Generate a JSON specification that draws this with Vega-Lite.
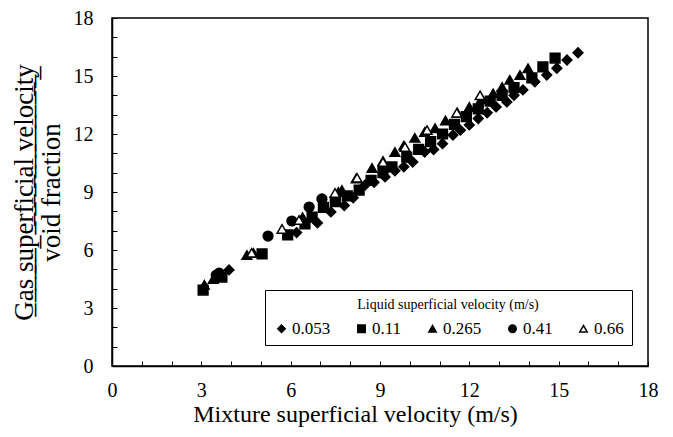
{
  "$schema": "https://vega.github.io/schema/vega-lite/v6.json",
  "width": 536,
  "height": 348,
  "autosize": {"type": "none"},
  "padding": {"left": 112, "top": 18, "right": 25, "bottom": 71},
  "background": "white",
  "config": {
    "font": "Liberation Serif",
    "view": {"stroke": "#000000", "strokeWidth": 1.5},
    "axis": {
      "grid": false,
      "domainColor": "#000000",
      "domainWidth": 1.5,
      "tickColor": "#000000",
      "tickWidth": 1,
      "tickSize": -5,
      "labelColor": "#000000",
      "titleColor": "#000000",
      "labelFont": "Liberation Serif",
      "titleFont": "Liberation Serif",
      "titleFontWeight": "normal",
      "labelFontSize": 20
    },
    "legend": {
      "symbolStrokeWidth": 1.5
    }
  },
  "data": {
    "values": [
      {"vm": 3.93, "vg": 4.97, "s": "0.053"},
      {"vm": 6.2, "vg": 6.9, "s": "0.053"},
      {"vm": 6.9, "vg": 7.4, "s": "0.053"},
      {"vm": 7.35, "vg": 7.97, "s": "0.053"},
      {"vm": 7.8, "vg": 8.3, "s": "0.053"},
      {"vm": 8.1, "vg": 8.7, "s": "0.053"},
      {"vm": 8.5, "vg": 9.36, "s": "0.053"},
      {"vm": 8.8, "vg": 9.5, "s": "0.053"},
      {"vm": 9.17, "vg": 9.78, "s": "0.053"},
      {"vm": 9.5, "vg": 10.1, "s": "0.053"},
      {"vm": 9.8, "vg": 10.3, "s": "0.053"},
      {"vm": 10.1, "vg": 10.55, "s": "0.053"},
      {"vm": 10.5, "vg": 11.07, "s": "0.053"},
      {"vm": 10.8, "vg": 11.2, "s": "0.053"},
      {"vm": 11.1, "vg": 11.5, "s": "0.053"},
      {"vm": 11.45, "vg": 11.95, "s": "0.053"},
      {"vm": 11.7, "vg": 12.2, "s": "0.053"},
      {"vm": 12.0, "vg": 12.47, "s": "0.053"},
      {"vm": 12.3, "vg": 12.8, "s": "0.053"},
      {"vm": 12.6, "vg": 13.1, "s": "0.053"},
      {"vm": 12.9, "vg": 13.4, "s": "0.053"},
      {"vm": 13.26, "vg": 13.66, "s": "0.053"},
      {"vm": 13.5, "vg": 14.0, "s": "0.053"},
      {"vm": 13.8, "vg": 14.28, "s": "0.053"},
      {"vm": 14.2, "vg": 14.7, "s": "0.053"},
      {"vm": 14.6, "vg": 15.05, "s": "0.053"},
      {"vm": 14.94, "vg": 15.4, "s": "0.053"},
      {"vm": 15.28, "vg": 15.83, "s": "0.053"},
      {"vm": 15.65, "vg": 16.2, "s": "0.053"},
      {"vm": 3.06, "vg": 3.93, "s": "0.11"},
      {"vm": 3.69, "vg": 4.6, "s": "0.11"},
      {"vm": 5.04, "vg": 5.8, "s": "0.11"},
      {"vm": 5.9, "vg": 6.78, "s": "0.11"},
      {"vm": 6.48, "vg": 7.35, "s": "0.11"},
      {"vm": 6.72, "vg": 7.7, "s": "0.11"},
      {"vm": 7.1, "vg": 8.2, "s": "0.11"},
      {"vm": 7.5, "vg": 8.5, "s": "0.11"},
      {"vm": 7.9, "vg": 8.8, "s": "0.11"},
      {"vm": 8.3, "vg": 9.1, "s": "0.11"},
      {"vm": 8.7, "vg": 9.6, "s": "0.11"},
      {"vm": 9.1, "vg": 10.0, "s": "0.11"},
      {"vm": 9.4, "vg": 10.3, "s": "0.11"},
      {"vm": 9.9, "vg": 10.8, "s": "0.11"},
      {"vm": 10.3, "vg": 11.2, "s": "0.11"},
      {"vm": 10.7, "vg": 11.6, "s": "0.11"},
      {"vm": 11.1, "vg": 12.0, "s": "0.11"},
      {"vm": 11.5, "vg": 12.5, "s": "0.11"},
      {"vm": 11.9, "vg": 12.9, "s": "0.11"},
      {"vm": 12.3, "vg": 13.3, "s": "0.11"},
      {"vm": 12.7, "vg": 13.7, "s": "0.11"},
      {"vm": 13.1, "vg": 14.0, "s": "0.11"},
      {"vm": 13.5, "vg": 14.4, "s": "0.11"},
      {"vm": 14.1, "vg": 14.9, "s": "0.11"},
      {"vm": 14.47, "vg": 15.47, "s": "0.11"},
      {"vm": 14.88, "vg": 15.93, "s": "0.11"},
      {"vm": 3.1, "vg": 4.2, "s": "0.265"},
      {"vm": 3.4, "vg": 4.5, "s": "0.265"},
      {"vm": 4.53, "vg": 5.74, "s": "0.265"},
      {"vm": 4.75, "vg": 5.85, "s": "0.265"},
      {"vm": 6.4, "vg": 7.7, "s": "0.265"},
      {"vm": 7.6, "vg": 9.0, "s": "0.265"},
      {"vm": 7.72, "vg": 9.1, "s": "0.265"},
      {"vm": 8.2, "vg": 9.7, "s": "0.265"},
      {"vm": 8.73, "vg": 10.24, "s": "0.265"},
      {"vm": 9.1, "vg": 10.6, "s": "0.265"},
      {"vm": 9.5, "vg": 11.07, "s": "0.265"},
      {"vm": 9.8, "vg": 11.4, "s": "0.265"},
      {"vm": 10.17, "vg": 11.8, "s": "0.265"},
      {"vm": 10.5, "vg": 12.1, "s": "0.265"},
      {"vm": 10.85, "vg": 12.3, "s": "0.265"},
      {"vm": 11.2, "vg": 12.7, "s": "0.265"},
      {"vm": 11.6, "vg": 13.1, "s": "0.265"},
      {"vm": 12.0, "vg": 13.4, "s": "0.265"},
      {"vm": 12.4, "vg": 13.8, "s": "0.265"},
      {"vm": 12.8, "vg": 14.1, "s": "0.265"},
      {"vm": 13.1, "vg": 14.43, "s": "0.265"},
      {"vm": 13.36, "vg": 14.8, "s": "0.265"},
      {"vm": 13.7, "vg": 15.05, "s": "0.265"},
      {"vm": 13.97, "vg": 15.4, "s": "0.265"},
      {"vm": 3.5, "vg": 4.7, "s": "0.41"},
      {"vm": 3.6, "vg": 4.8, "s": "0.41"},
      {"vm": 5.24, "vg": 6.72, "s": "0.41"},
      {"vm": 6.04, "vg": 7.5, "s": "0.41"},
      {"vm": 6.62, "vg": 8.22, "s": "0.41"},
      {"vm": 7.05, "vg": 8.64, "s": "0.41"},
      {"vm": 4.69, "vg": 5.85, "s": "0.66"},
      {"vm": 5.71, "vg": 7.09, "s": "0.66"},
      {"vm": 6.28, "vg": 7.55, "s": "0.66"},
      {"vm": 7.49, "vg": 8.95, "s": "0.66"},
      {"vm": 8.23, "vg": 9.73, "s": "0.66"},
      {"vm": 9.1, "vg": 10.55, "s": "0.66"},
      {"vm": 9.84, "vg": 11.33, "s": "0.66"},
      {"vm": 10.58, "vg": 12.2, "s": "0.66"},
      {"vm": 11.58, "vg": 13.1, "s": "0.66"},
      {"vm": 12.36, "vg": 14.0, "s": "0.66"}
    ]
  },
  "mark": {"type": "point", "filled": true, "strokeWidth": 1.5, "opacity": 1, "size": 95},
  "encoding": {
    "x": {
      "field": "vm", "type": "quantitative",
      "scale": {"domain": [0, 18], "nice": false},
      "axis": {
        "values": [0,1,2,3,4,5,6,7,8,9,10,11,12,13,14,15,16,17,18],
        "labelExpr": "datum.value % 3 == 0 ? datum.label : ''",
        "labelPadding": 19,
        "labelFlush": false,
        "title": "Mixture superficial velocity (m/s)",
        "titleFontSize": 24,
        "titlePadding": 2,
        "titleX": 243,
        "titleAlign": "center",
        "titleAnchor": "start"
      }
    },
    "y": {
      "field": "vg", "type": "quantitative",
      "scale": {"domain": [0, 18], "nice": false},
      "axis": {
        "values": [0,1,2,3,4,5,6,7,8,9,10,11,12,13,14,15,16,17,18],
        "labelExpr": "datum.value % 3 == 0 ? datum.label : ''",
        "labelPadding": 24,
        "labelFlush": false,
        "title": ["G̲a̲s̲ ̲s̲u̲p̲e̲r̲f̲i̲c̲i̲a̲l̲ ̲v̲e̲l̲o̲c̲i̲t̲y̲", "void fraction"],
        "titleFontSize": 27,
        "titleLineHeight": 27,
        "titlePadding": 8
      }
    },
    "shape": {
      "field": "s", "type": "nominal",
      "sort": ["0.053", "0.11", "0.265", "0.41", "0.66"],
      "scale": {
        "domain": ["0.053", "0.11", "0.265", "0.41", "0.66"],
        "range": ["diamond", "square", "triangle-up", "circle", "triangle-up"]
      },
      "legend": {
        "title": "Liquid superficial velocity (m/s)",
        "orient": "none",
        "legendX": 153,
        "legendY": 272,
        "direction": "horizontal",
        "columns": 5,
        "strokeColor": "#000000",
        "padding": 8,
        "titleFont": "Liberation Serif",
        "titleFontWeight": "normal",
        "titleFontSize": 14,
        "titleColor": "#000000",
        "titleAnchor": "middle",
        "titlePadding": 8,
        "titleLimit": 400,
        "labelFont": "Liberation Serif",
        "labelFontSize": 17,
        "labelColor": "#000000",
        "symbolSize": 55,
        "columnPadding": 22,
        "labelOffset": 2
      }
    },
    "fill": {
      "field": "s", "type": "nominal",
      "sort": ["0.053", "0.11", "0.265", "0.41", "0.66"],
      "scale": {
        "domain": ["0.053", "0.11", "0.265", "0.41", "0.66"],
        "range": ["#000000", "#000000", "#000000", "#000000", "#ffffff"]
      },
      "legend": {"title": "Liquid superficial velocity (m/s)"}
    },
    "stroke": {
      "field": "s", "type": "nominal",
      "sort": ["0.053", "0.11", "0.265", "0.41", "0.66"],
      "scale": {
        "domain": ["0.053", "0.11", "0.265", "0.41", "0.66"],
        "range": ["#000000", "#000000", "#000000", "#000000", "#000000"]
      },
      "legend": {"title": "Liquid superficial velocity (m/s)"}
    }
  }
}
